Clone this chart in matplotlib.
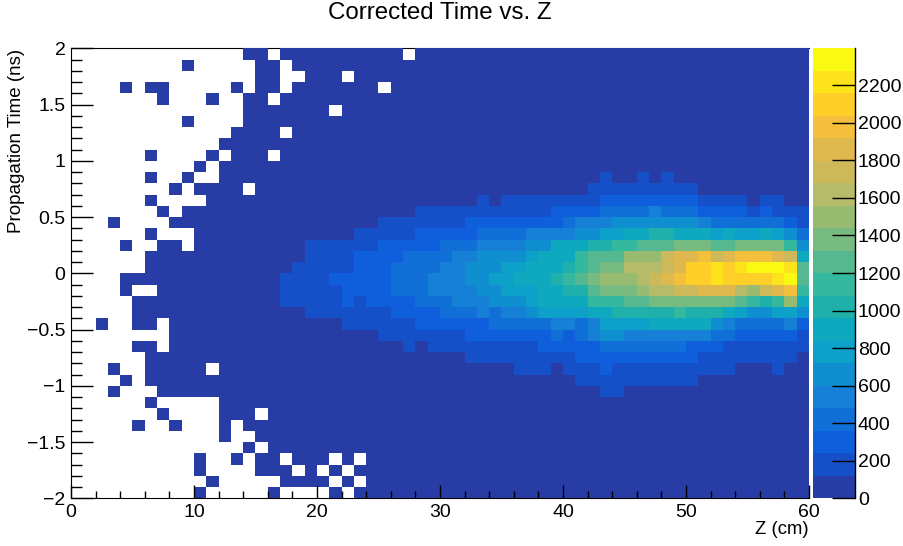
import numpy as np
import matplotlib
matplotlib.use("Agg")
import matplotlib.pyplot as plt
from matplotlib.colors import BoundaryNorm, ListedColormap

plt.rcParams['font.family'] = ['Liberation Sans', 'DejaVu Sans']

# one string per row, top row first, 60 bins each. "." = empty bin,
# otherwise the palette band of the bin (0-9 then a-j)
rows = [
    ".......... ....00.000 0000000.00 0000000000 0000000000 0000000000",
    ".........0 .....00.00 0000000000 0000000000 0000000000 0000000000",
    ".......... .....00..0 00.0000000 0000000000 0000000000 0000000000",
    "....0.00.. ...0.00.00 00000.0000 0000000000 0000000000 0000000000",
    ".......0.. .0..00.000 0000000000 0000000000 0000000000 0000000000",
    ".......... ....000000 0.00000000 0000000000 0000000000 0000000000",
    ".........0 ....000000 0000000000 0000000000 0000000000 0000000000",
    ".......... ...0000.00 0000000000 0000000000 0000000000 0000000000",
    ".......... ..00000000 0000000000 0000000000 0000000000 0000000000",
    "......0... .0.000.000 0000000000 0000000000 0000000000 0000000000",
    ".......... 0.00000000 0000000000 0000000000 0000000000 0000000000",
    "......0..0 ..00000000 0000000000 0000000000 0001001010 0000000000",
    "........0. 0000.00000 0000000000 0000000000 0011111111 1000000000",
    "......0... .000000000 0000000000 0001011111 1112222222 2111101100",
    ".......0.0 0000000000 0000000011 1111111112 2223333433 3222212111",
    "...0....00 0000000000 0000011111 1122222222 3444555555 5433333321",
    "......0... 0000000000 0001111122 2223333444 4556677887 7767667653",
    "....0..00. 0000000001 1111122222 3334444557 778899aaab bbaabbbb95",
    "......0000 0000000001 1112222333 3445555677 79aaacccef fgefgggfe7",
    "......0000 0000000011 1112223333 4455566777 89abbdddef hhihijjjia",
    "....000000 0000000111 1222223334 4455667778 9abcccdefg hhihhhhija",
    "....0..000 0000000111 1122223334 4445566677 88abbbcdde efffdcefg9",
    ".....00000 0000000111 1121222233 3444555677 77999aabbb bbbba989c7",
    ".....00000 0000000001 1111112222 3334344566 6677888889 8887655665",
    "..0..00.00 0000000000 0011111122 2222333334 4346666777 7754333342",
    "........00 0000000000 0000011111 1122222223 2345544444 4433222221",
    ".....00.00 0000000000 0000000101 1111111122 2223333333 2221111111",
    "......0000 0000000000 0000000000 0011111111 1222222222 2111111110",
    "...0..0000 0.00000000 0000000000 0000001110 1112111111 1111000100",
    "....0.0000 0000000000 0000000000 0000000000 0111111111 1000000000",
    "...0...000 0000000000 0000000000 0000000000 0001100000 0000000000",
    "......0... ..00000000 0000000000 0000000000 0000000000 0000000000",
    ".......0.. ..000.0000 0000000000 0000000000 0000000000 0000000000",
    ".....0..0. ..0.000000 0000000000 0000000000 0000000000 0000000000",
    ".......... ..0..00000 0000000000 0000000000 0000000000 0000000000",
    ".......... ....0.0000 0000000000 0000000000 0000000000 0000000000",
    ".......... 0..0.00.00 0.0.000000 0000000000 0000000000 0000000000",
    ".......... 0....000.0 .0.0000000 0000000000 0000000000 0000000000",
    ".......... .0.....000 0.0.000000 0000000000 0000000000 0000000000",
    ".......... 0.....0... .0.0000000 0000000000 0000000000 0000000000",
]

palette = ["#283ca6", "#1650c8", "#0f5fdc", "#1070d8", "#1580d5",
           "#108fd0", "#0da0c8", "#0fa9bf", "#20b0aa", "#35b8a0",
           "#55b890", "#78bb80", "#97bb70", "#b5bb68", "#cdb85a",
           "#dfb84e", "#f3bf3c", "#fecf28", "#fde31c", "#f9f911"]

z_max = 2397.0
z_ticks = [0, 200, 400, 600, 800, 1000, 1200, 1400, 1600, 1800, 2000, 2200]
x_ticks = [0, 10, 20, 30, 40, 50, 60]
y_ticks = [-2, -1.5, -1, -0.5, 0, 0.5, 1, 1.5, 2]
y_labels = ["\u22122", "\u22121.5", "\u22121", "\u22120.5", "0", "0.5", "1", "1.5", "2"]

# band -> bin count (middle of the band)
band = z_max / len(palette)
counts = np.full((40, 60), np.nan)
for i, row in enumerate(rows):
    for j, c in enumerate("".join(row.split())):
        if c != ".":
            counts[i, j] = (int(c, 20) + 0.5) * band

x_edges = np.linspace(0, 60, 61)
y_edges = np.linspace(2, -2, 41)
levels = np.linspace(0, z_max, len(palette) + 1)
cmap = ListedColormap(palette)
norm = BoundaryNorm(levels, len(palette))

W, H = 904.0, 546.0
fig = plt.figure(figsize=(9.04, 5.46), dpi=100)
ax = fig.add_axes([71 / W, 1 - 498.3 / H, 738 / W, 450 / H])
cax = fig.add_axes([813 / W, 1 - 498.3 / H, 42 / W, 450 / H])

mesh = ax.pcolormesh(x_edges, y_edges, counts, cmap=cmap, norm=norm, zorder=1)
ax.set_xlim(0, 60)
ax.set_ylim(-2, 2)
ax.set_xticks(x_ticks)
ax.set_yticks(y_ticks)
ax.set_yticklabels(y_labels)
ax.set_xticks(np.arange(0, 61, 2), minor=True)
ax.set_yticks(np.arange(-20, 21) / 10.0, minor=True)
ax.tick_params(axis='x', which='major', direction='in', length=9.5, width=1.0, labelsize=14, pad=4, zorder=5)
ax.tick_params(axis='x', which='minor', direction='in', length=5, width=1.0, zorder=5)
ax.tick_params(axis='y', which='major', direction='in', length=16, width=1.0, labelsize=14, pad=4, zorder=5)
ax.tick_params(axis='y', which='minor', direction='in', length=8, width=1.0, zorder=5)
ax.spines['right'].set_visible(False)
ax.spines['top'].set_zorder(0.5)
ax.set_facecolor('white')

fig.text(440 / W, 1 - 13 / H, "Corrected Time vs. Z", fontsize=17.4, ha='center', va='center')
fig.text(809 / W, 1 - 530 / H, "Z (cm)", fontsize=13.3, ha='right', va='center')
fig.text(17 / W, 1 - 49 / H, "Propagation Time (ns)", fontsize=13.5, ha='center', va='top', rotation=90)

cb = fig.colorbar(mesh, cax=cax, ticks=z_ticks, spacing='proportional')
cb.outline.set_visible(False)
cb.minorticks_off()
cax.tick_params(axis='y', which='major', direction='in', length=16.5, width=1.0, labelsize=14, pad=2, right=True)
cax.spines['right'].set_visible(True)
cax.spines['right'].set_linewidth(1.0)

fig.savefig("out.png", dpi=100)
plt.close()
